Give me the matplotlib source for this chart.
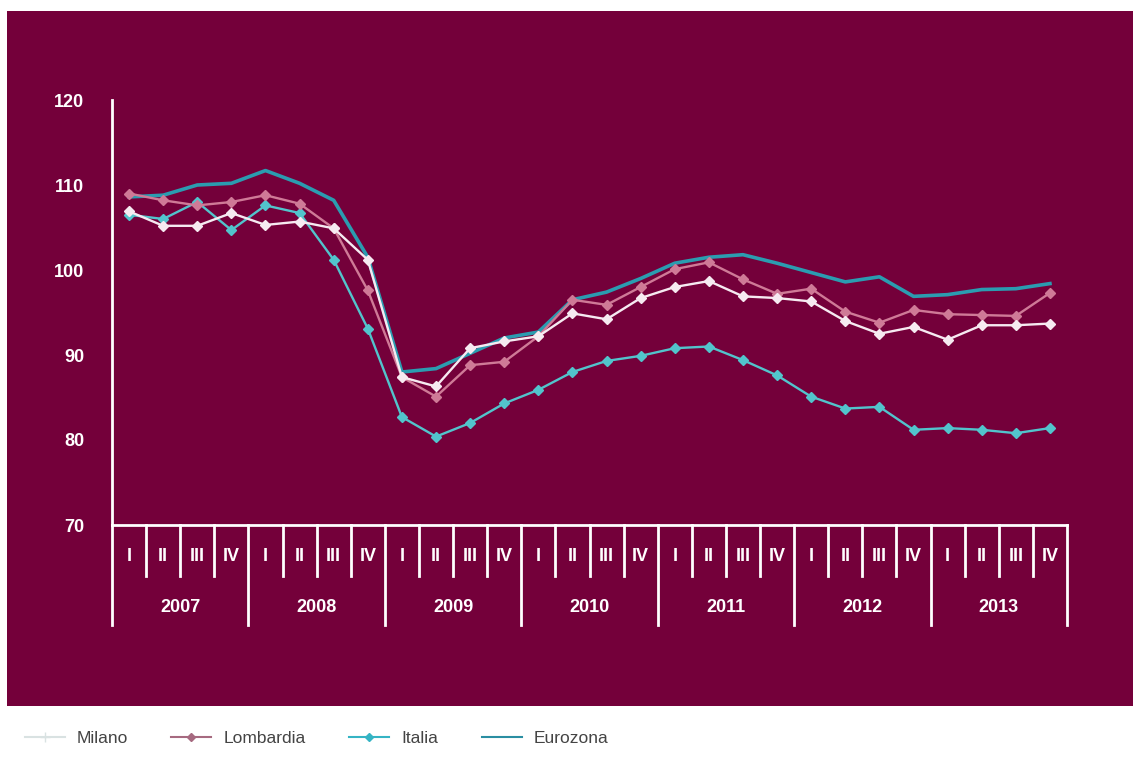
import matplotlib
matplotlib.use('Agg')
import matplotlib.pyplot as plt
import matplotlib.transforms as mtransforms
from matplotlib.patches import Rectangle
from matplotlib.lines import Line2D

years = ['2007', '2008', '2009', '2010', '2011', '2012', '2013']
quarters = ['I', 'II', 'III', 'IV']

milano = [106.9, 105.2, 105.2, 106.7,
          105.3, 105.7, 104.9, 101.2,
          87.4, 86.3, 90.8, 91.6,
          92.2, 94.9, 94.2, 96.7,
          98.0, 98.7, 96.9, 96.7,
          96.3, 94.0, 92.5, 93.3,
          91.8, 93.5, 93.5, 93.7]
lombardia = [109.0, 108.2, 107.6, 108.0,
             108.8, 107.8, 104.9, 97.6,
             87.4, 85.1, 88.8, 89.2,
             92.2, 96.5, 95.9, 98.0,
             100.1, 100.9, 98.9, 97.2,
             97.8, 95.1, 93.8, 95.3,
             94.8, 94.7, 94.6, 97.3]
italia = [106.5, 106.0, 108.0, 104.7,
          107.6, 106.7, 101.2, 93.1,
          82.7, 80.4, 82.0, 84.3,
          85.9, 88.0, 89.3, 89.9,
          90.8, 91.0, 89.4, 87.6,
          85.1, 83.7, 83.9, 81.2,
          81.4, 81.2, 80.8, 81.4]
eurozona = [108.6, 108.8, 110.0, 110.2,
            111.7, 110.2, 108.2, 101.5,
            88.0, 88.4, 90.2, 92.0,
            92.7, 96.5, 97.4, 99.0,
            100.8, 101.5, 101.8, 100.8,
            99.7, 98.6, 99.2, 96.9,
            97.1, 97.7, 97.8, 98.4]

bg = '#74003a'
plt.rcParams['font.family'] = ['Liberation Sans', 'DejaVu Sans']

fig = plt.figure(figsize=(11.33, 7.58), dpi=100, facecolor='white')

# maroon panel behind everything
bg_ax = fig.add_axes([0, 0, 1, 1], zorder=-1)
bg_ax.axis('off')
bg_ax.add_patch(Rectangle((7 / 1133, 1 - 706 / 758), 1, (706 - 11) / 758,
                          transform=bg_ax.transAxes, facecolor=bg,
                          edgecolor='none'))

ax = fig.add_axes([112 / 1133, 1 - 525 / 758, 955 / 1133, 425 / 758])
ax.set_facecolor('none')

x = list(range(len(milano)))
ax.plot(x, eurozona, color='#2b9cb0', lw=2.6, zorder=2)
ax.plot(x, italia, color='#52c4cc', lw=1.7, marker='D', ms=5.5, zorder=3)
ax.plot(x, lombardia, color='#cf7a97', lw=1.7, marker='D', ms=5.5, zorder=4)
ax.plot(x, milano, color='#f6eaf1', lw=1.7, marker='D', ms=5.5, zorder=5)

ax.set_xlim(-0.5, len(x) - 0.5)
ax.set_ylim(70, 120)
ax.set_yticks([70, 80, 90, 100, 110, 120])
ax.tick_params(axis='y', length=0, pad=20, labelcolor='white', labelsize=13)
for t in ax.get_yticklabels():
    t.set_fontweight('bold')
ax.set_xticks([])

for s in ['top', 'right']:
    ax.spines[s].set_visible(False)
for s in ['left', 'bottom']:
    ax.spines[s].set_color('white')
    ax.spines[s].set_linewidth(2)

# category axis: quarters and years below the plot
trans = mtransforms.blended_transform_factory(ax.transData, ax.transAxes)
for k in range(len(x) + 1):
    y_end = -0.235 if k % 4 == 0 else -0.12
    ax.plot([k - 0.5, k - 0.5], [0, y_end], color='white', lw=2,
            transform=trans, clip_on=False)
for i in x:
    ax.text(i, -0.075, quarters[i % 4], transform=trans, ha='center',
            va='center', color='white', fontsize=13, fontweight='bold')
for j, yr in enumerate(years):
    ax.text(j * 4 + 1.5, -0.195, yr, transform=trans, ha='center',
            va='center', color='white', fontsize=13, fontweight='bold')

handles = [
    Line2D([], [], color='#d9e2e2', lw=1.5, marker='+', ms=7),
    Line2D([], [], color='#a66a80', lw=1.5, marker='D', ms=4.5),
    Line2D([], [], color='#35b4c4', lw=1.5, marker='D', ms=4.5),
    Line2D([], [], color='#2a8ea2', lw=1.5),
]
fig.legend(handles, ['Milano', 'Lombardia', 'Italia', 'Eurozona'],
           loc='center left', bbox_to_anchor=(9 / 1133, 1 - 738 / 758),
           ncol=4, frameon=False, fontsize=12.5, handlelength=2.3,
           handletextpad=0.7, columnspacing=2.5, labelcolor='#444444')

fig.savefig('out.png', dpi=100, facecolor='white')
